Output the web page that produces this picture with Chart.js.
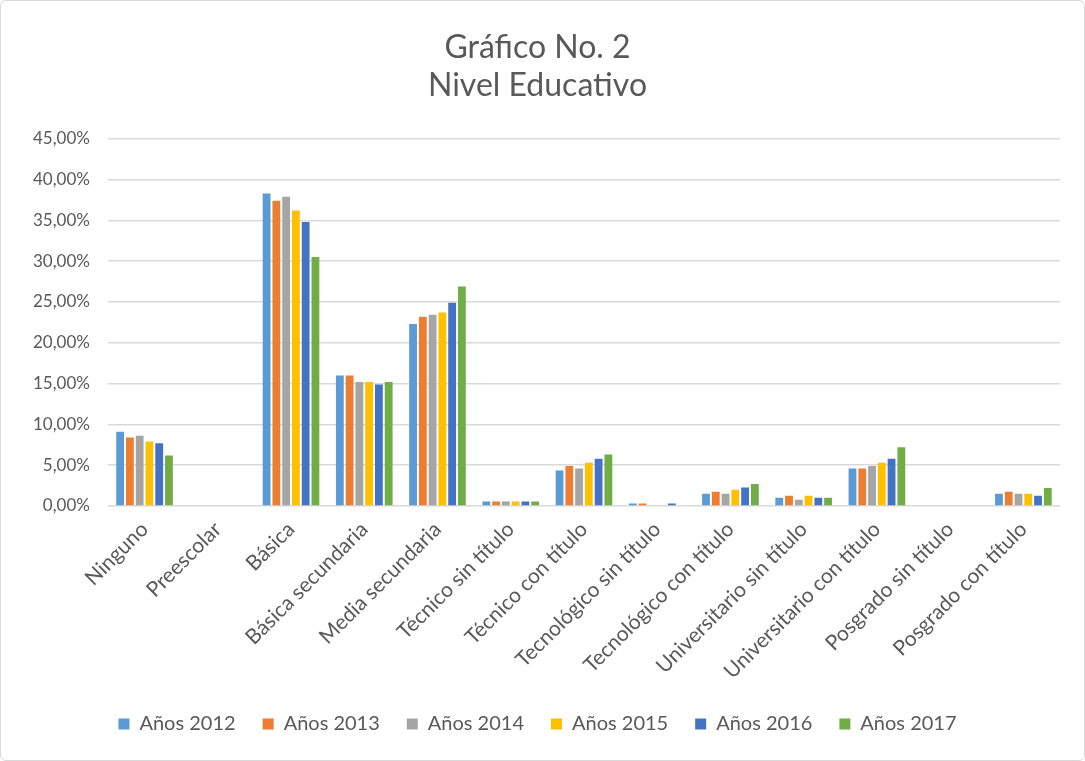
<!DOCTYPE html>
<html>
<head>
<meta charset="utf-8">
<script src="https://cdn.jsdelivr.net/npm/chart.js@4/dist/chart.umd.min.js"></script>
<style>
  html, body { margin: 0; padding: 0; background: #fff; }
  #wrap {
    position: absolute; left: 0; top: 0;
    width: 1083px; height: 759px;
    border: 1px solid #d9d9d9; border-radius: 6px;
  }
</style>
</head>
<body>
<div id="wrap"><canvas id="chart" width="1083" height="759"></canvas></div>
<script>
const categories = [
    'Ninguno', 'Preescolar', 'Básica', 'Básica secundaria', 'Media secundaria',
    'Técnico sin título', 'Técnico con título', 'Tecnológico sin título',
    'Tecnológico con título', 'Universitario sin título', 'Universitario con título',
    'Posgrado sin título', 'Posgrado con título'
];

// porcentajes por año
const anos2012 = [9.1, 0, 38.3, 16.0, 22.3, 0.55, 4.35, 0.3, 1.5, 1.0, 4.6, 0, 1.5];
const anos2013 = [8.4, 0, 37.4, 16.0, 23.2, 0.55, 4.9, 0.3, 1.75, 1.25, 4.6, 0, 1.75];
const anos2014 = [8.6, 0, 37.9, 15.2, 23.45, 0.55, 4.6, 0, 1.5, 0.75, 4.9, 0, 1.5];
const anos2015 = [7.9, 0, 36.2, 15.2, 23.7, 0.55, 5.3, 0, 2.0, 1.25, 5.3, 0, 1.5];
const anos2016 = [7.7, 0, 34.8, 14.9, 24.9, 0.55, 5.8, 0.3, 2.25, 1.0, 5.8, 0, 1.25];
const anos2017 = [6.2, 0, 30.5, 15.2, 26.9, 0.55, 6.3, 0, 2.7, 1.0, 7.2, 0, 2.2];

const seriesNames = ['Años 2012', 'Años 2013', 'Años 2014', 'Años 2015', 'Años 2016', 'Años 2017'];
const seriesData = [anos2012, anos2013, anos2014, anos2015, anos2016, anos2017];
const colors = ['#5B9BD5', '#ED7D31', '#A5A5A5', '#FFC000', '#4472C4', '#70AD47'];

const yTicks = { min: 0, max: 45, step: 5 };

Chart.defaults.font.family = 'Lato, "Open Sans", sans-serif';
Chart.defaults.color = '#595959';

new Chart(document.getElementById('chart'), {
    type: 'bar',
    data: {
        labels: categories,
        datasets: seriesNames.map((name, i) => ({
            label: name,
            data: seriesData[i],
            backgroundColor: colors[i],
            borderWidth: 0,
            categoryPercentage: 0.8,
            barPercentage: 0.8
        }))
    },
    options: {
        responsive: false,
        animation: false,
        layout: {
            padding: { left: 14, right: 24, top: 10, bottom: 16 }
        },
        plugins: {
            title: {
                display: true,
                text: ['Gráfico No. 2', 'Nivel Educativo'],
                font: { size: 32, weight: 'normal' },
                lineHeight: 1.45,
                color: '#595959',
                padding: { top: 17, bottom: 34 }
            },
            legend: {
                position: 'bottom',
                labels: {
                    boxWidth: 11,
                    boxHeight: 11,
                    padding: 27,
                    font: { size: 20 },
                    color: '#595959'
                }
            },
            tooltip: { enabled: false }
        },
        scales: {
            x: {
                grid: { display: false },
                border: { display: false },
                ticks: {
                    maxRotation: 45,
                    minRotation: 45,
                    autoSkip: false,
                    font: { size: 21 },
                    color: '#595959'
                }
            },
            y: {
                min: yTicks.min,
                max: yTicks.max,
                border: { display: false },
                grid: { color: '#d9d9d9', lineWidth: 1.5, drawTicks: false },
                ticks: {
                    stepSize: yTicks.step,
                    padding: 18,
                    font: { size: 17 },
                    color: '#595959',
                    callback: v => v.toFixed(2).replace('.', ',') + '%'
                }
            }
        }
    }
});
</script>
</body>
</html>
